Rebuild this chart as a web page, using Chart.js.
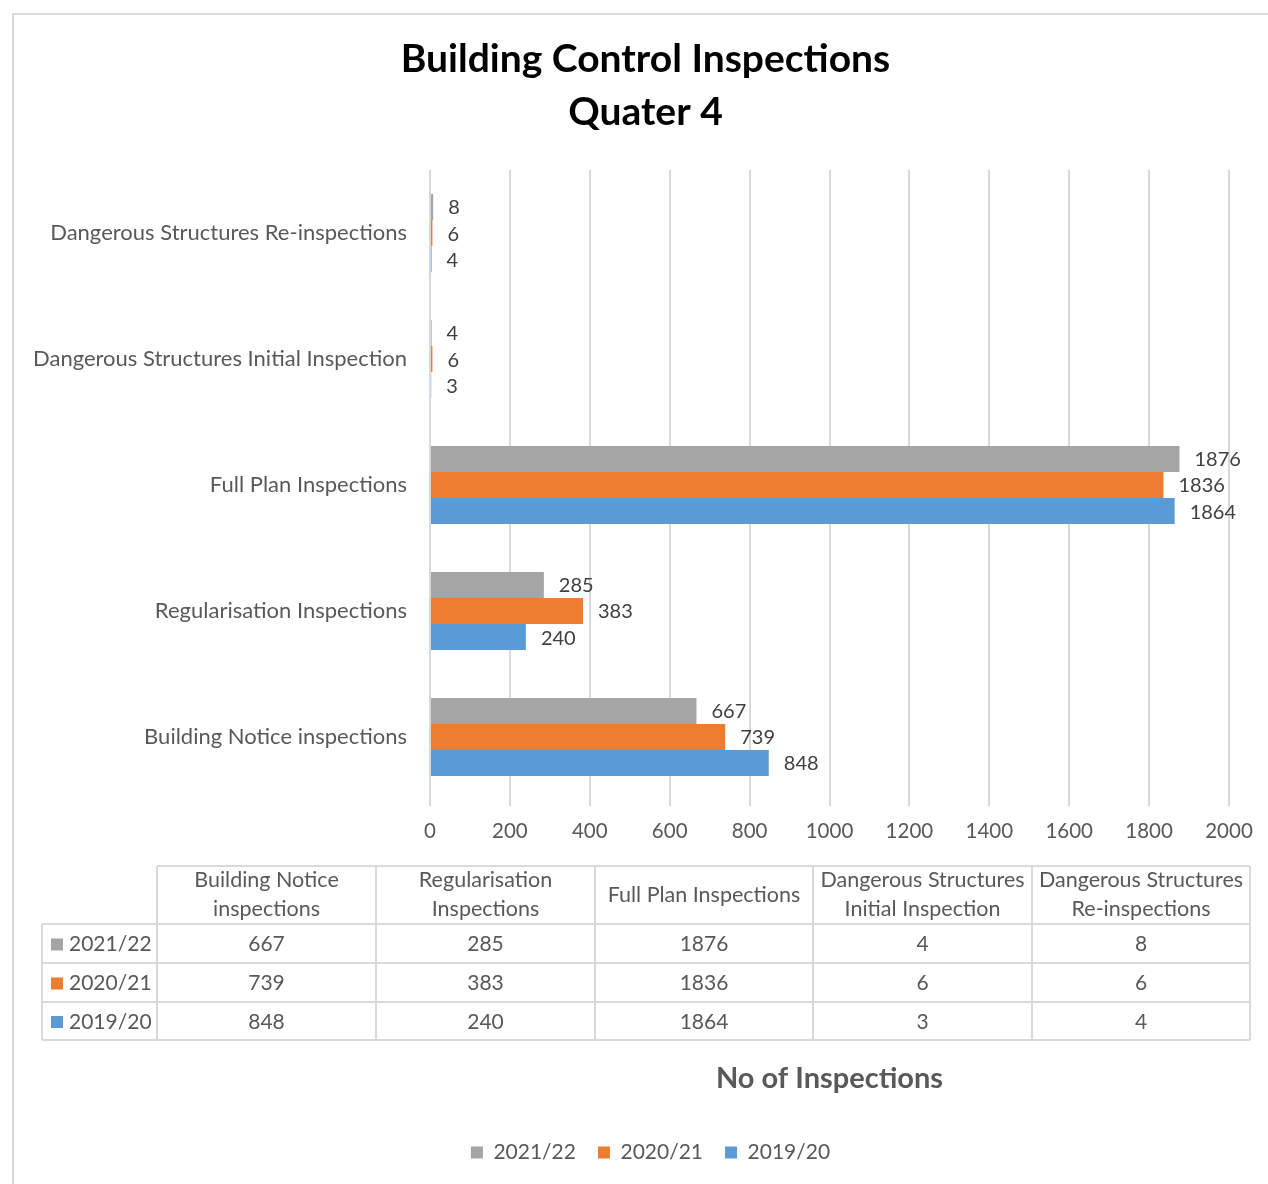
<!DOCTYPE html>
<html><head><meta charset="utf-8">
<script src="https://cdn.jsdelivr.net/npm/chart.js@4/dist/chart.umd.min.js"></script>
<style>html,body{margin:0;padding:0;background:#fff;}</style>
</head><body>
<canvas id="c" width="1268" height="1184"></canvas>
<script>
const chartTitle = ['Building Control Inspections', 'Quater 4'];
const categories = ['Building Notice inspections', 'Regularisation Inspections', 'Full Plan Inspections', 'Dangerous Structures Initial Inspection', 'Dangerous Structures Re-inspections'];
const seriesNames = ['2021/22', '2020/21', '2019/20'];
const values2021_22 = [667, 285, 1876, 4, 8];
const values2020_21 = [739, 383, 1836, 6, 6];
const values2019_20 = [848, 240, 1864, 3, 4];
const xTickValues = [0, 200, 400, 600, 800, 1000, 1200, 1400, 1600, 1800, 2000];
const xAxisTitle = 'No of Inspections';
const seriesColors = ['#A5A5A5', '#ED7D31', '#5B9BD5'];

const FONT = 'Lato, "Open Sans", sans-serif';
const TEXT_GRAY = '#595959';
Chart.defaults.font.family = FONT;

const framePlugin = {
  id: 'frame',
  beforeDraw(chart) {
    const ctx = chart.ctx;
    ctx.save();
    ctx.fillStyle = '#ffffff';
    ctx.fillRect(0, 0, chart.width, chart.height);
    ctx.strokeStyle = '#D9D9D9';
    ctx.lineWidth = 2;
    ctx.strokeRect(13, 14, chart.width + 10, chart.height + 10);
    ctx.restore();
  }
};

// Shift the title and legend boxes so they are centred like the reference
const centringPlugin = {
  id: 'centring',
  afterLayout(chart) {
    if (chart.titleBlock) { chart.titleBlock.left += 25; chart.titleBlock.right += 25; }
    if (chart.legend) { chart.legend.left += 30; chart.legend.right += 30; }
  }
};

const valueLabelPlugin = {
  id: 'valueLabels',
  afterDatasetsDraw(chart) {
    const ctx = chart.ctx;
    ctx.save();
    ctx.font = '20px ' + FONT;
    ctx.fillStyle = '#404040';
    ctx.textAlign = 'left';
    ctx.textBaseline = 'middle';
    chart.data.datasets.forEach((ds, i) => {
      const meta = chart.getDatasetMeta(i);
      meta.data.forEach((el, j) => {
        ctx.fillText(String(ds.data[j]), el.x + 15, el.y + 1);
      });
    });
    ctx.restore();
  }
};

function wrapText(ctx, text, maxW) {
  const words = text.split(' ');
  const lines = [];
  let cur = '';
  words.forEach(w => {
    const t = cur ? cur + ' ' + w : w;
    if (ctx.measureText(t).width > maxW && cur) { lines.push(cur); cur = w; }
    else cur = t;
  });
  if (cur) lines.push(cur);
  return lines;
}

const dataTablePlugin = {
  id: 'dataTable',
  afterDraw(chart) {
    const ctx = chart.ctx;
    const cols = [157, 376, 595, 813, 1032, 1250];
    const leftX = 42;
    const headTop = 866, rowLines = [924, 963, 1002, 1040];
    ctx.save();
    ctx.strokeStyle = '#D9D9D9';
    ctx.lineWidth = 2;
    ctx.beginPath();
    ctx.moveTo(cols[0], headTop); ctx.lineTo(cols[cols.length - 1], headTop);
    rowLines.forEach(y => { ctx.moveTo(leftX, y); ctx.lineTo(cols[cols.length - 1], y); });
    ctx.moveTo(leftX, rowLines[0]); ctx.lineTo(leftX, rowLines[rowLines.length - 1]);
    cols.forEach(x => { ctx.moveTo(x, headTop); ctx.lineTo(x, rowLines[rowLines.length - 1]); });
    ctx.stroke();

    ctx.font = '21.5px ' + FONT;
    ctx.fillStyle = TEXT_GRAY;
    ctx.textAlign = 'center';
    ctx.textBaseline = 'middle';
    const labels = chart.data.labels;
    labels.forEach((lab, c) => {
      const cx = (cols[c] + cols[c + 1]) / 2;
      const lines = wrapText(ctx, lab, 214);
      const lh = 29;
      const midY = (headTop + rowLines[0]) / 2;
      const startY = midY - (lines.length - 1) * lh / 2;
      lines.forEach((ln, k) => ctx.fillText(ln, cx, startY + k * lh));
    });
    ctx.font = '21px ' + FONT;
    chart.data.datasets.forEach((ds, r) => {
      const cy = (rowLines[r] + rowLines[r + 1]) / 2 + 1;
      ctx.fillStyle = ds.backgroundColor;
      ctx.fillRect(51, cy - 6, 12, 12);
      ctx.fillStyle = TEXT_GRAY;
      ctx.textAlign = 'left';
      ctx.fillText(ds.label, 69, cy);
      ctx.textAlign = 'center';
      ds.data.forEach((v, c) => {
        const cx = (cols[c] + cols[c + 1]) / 2;
        ctx.fillText(String(v), cx, cy);
      });
    });
    ctx.restore();
  }
};

new Chart(document.getElementById('c'), {
  type: 'bar',
  data: {
    labels: categories,
    datasets: [
      { label: seriesNames[0], data: values2021_22, backgroundColor: seriesColors[0] },
      { label: seriesNames[1], data: values2020_21, backgroundColor: seriesColors[1] },
      { label: seriesNames[2], data: values2019_20, backgroundColor: seriesColors[2] }
    ]
  },
  options: {
    indexAxis: 'y',
    responsive: false,
    animation: false,
    devicePixelRatio: 1,
    categoryPercentage: 0.62,
    barPercentage: 1.0,
    layout: { padding: { left: 12, right: 39, top: 0, bottom: 11 } },
    scales: {
      x: {
        min: 0, max: 2000,
        afterBuildTicks(scale) { scale.ticks = xTickValues.map(v => ({ value: v })); },
        afterFit(scale) { scale.height = 320; },
        grid: { color: '#D9D9D9', lineWidth: 2, tickLength: 6, drawTicks: true },
        border: { display: false },
        ticks: { color: TEXT_GRAY, font: { size: 20.5 }, padding: 13, callback: v => String(v) },
        title: { display: true, text: xAxisTitle, color: TEXT_GRAY, font: { size: 29, weight: 'bold' }, padding: { top: 0, bottom: 24 } }
      },
      y: {
        reverse: true,
        afterFit(scale) { scale.width = 418; },
        grid: { display: false, drawTicks: false },
        border: { display: false },
        ticks: { color: TEXT_GRAY, font: { size: 22 }, padding: 23 }
      }
    },
    plugins: {
      title: {
        display: true, text: chartTitle, color: '#000000',
        font: { size: 39, weight: 'bold', lineHeight: 1.36 },
        padding: { top: 33, bottom: 31 }
      },
      legend: {
        position: 'bottom',
        labels: { color: TEXT_GRAY, font: { size: 21 }, boxWidth: 12, boxHeight: 12, padding: 22 }
      },
      tooltip: { enabled: false }
    }
  },
  plugins: [framePlugin, centringPlugin, valueLabelPlugin, dataTablePlugin]
});
</script>
</body></html>
